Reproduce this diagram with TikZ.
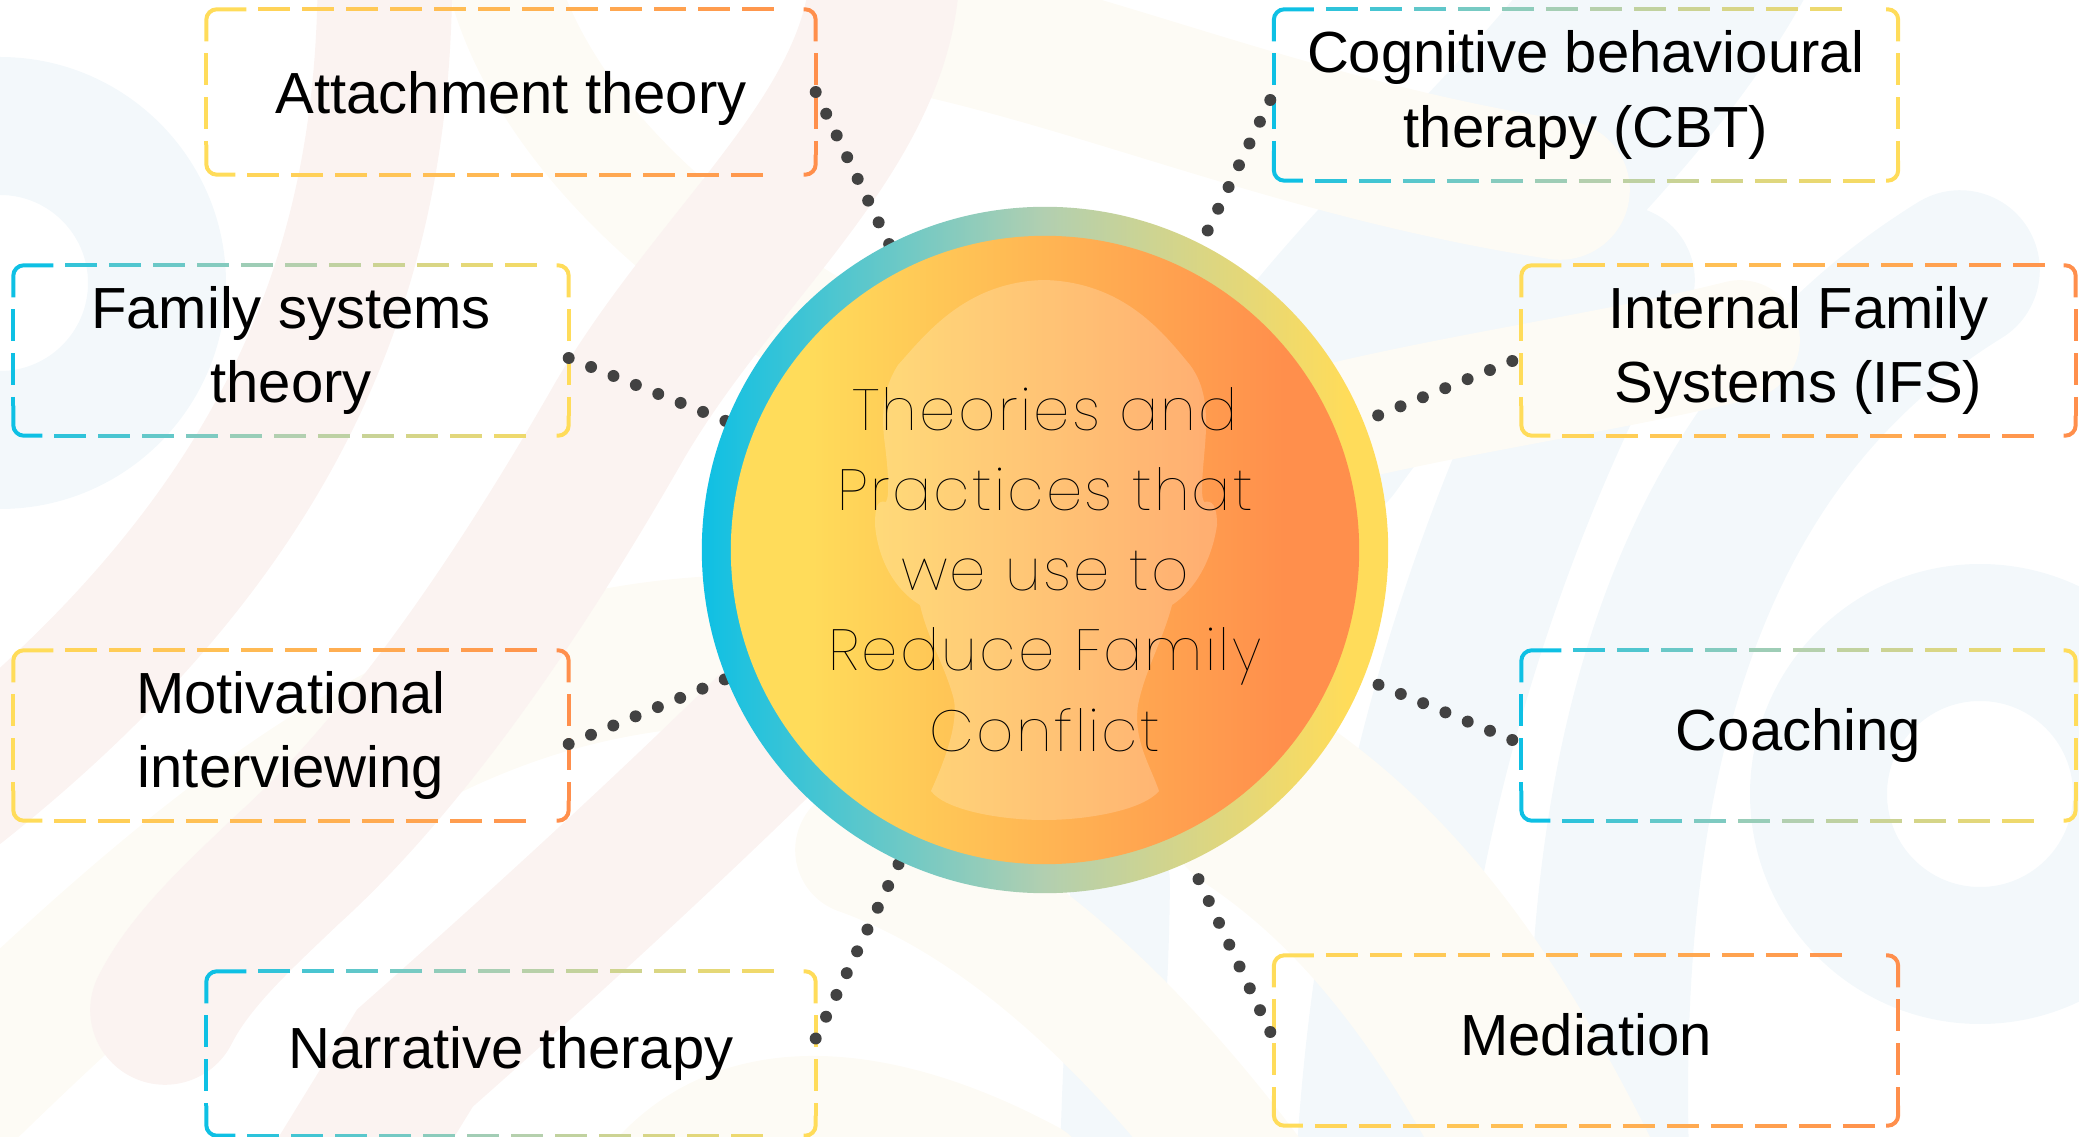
\documentclass[tikz,border=0pt]{standalone}
\usepackage{fontspec}
\setmainfont{Liberation Sans}
\newfontfamily\hubfont[LetterSpace=4]{Poppins Thin}
\usetikzlibrary{calc}
\definecolor{cyanend}{RGB}{14,192,228}
\definecolor{sagemid}{RGB}{178,207,176}
\definecolor{yellowend}{RGB}{255,220,90}
\definecolor{ambermid}{RGB}{255,181,83}
\definecolor{orangeend}{RGB}{255,143,76}
\definecolor{dotgrey}{RGB}{66,66,66}
\definecolor{bgblue}{RGB}{243,248,251}
\definecolor{bgpink}{RGB}{251,243,241}
\definecolor{bgyellow}{RGB}{253,251,245}
\pgfdeclarehorizontalshading{ringshade}{100bp}{color(0bp)=(cyanend); color(25bp)=(cyanend); color(50bp)=(sagemid); color(72bp)=(yellowend); color(100bp)=(yellowend)}
\pgfdeclarehorizontalshading{coreshade}{100bp}{color(0bp)=(yellowend); color(31bp)=(yellowend); color(50bp)=(ambermid); color(69bp)=(orangeend); color(100bp)=(orangeend)}
\tikzset{
  theorybox/.style 2 args={minimum width=#1*0.01cm,minimum height=#2*0.01cm,inner sep=0pt,align=center,
    font=\fontsize{16.5}{21.2}\selectfont},
  edgeline/.style={line width=1.13pt},
  dotline/.style={dotgrey,line width=3.4pt,line cap=round,dash pattern=on 0pt off 6.86pt},
  bgband/.style={line width=#1*0.2835pt,line cap=round}
}
% colour of one dash: position, width, left, middle, right
\newcommand{\edgecolour}[5]{%
  \pgfmathtruncatemacro\pc{(#1+16)/#2*100}%
  \ifnum\pc<50
    \pgfmathtruncatemacro\pd{2*\pc}\colorlet{dashcol}{#4!\pd!#3}%
  \else
    \pgfmathtruncatemacro\pd{min(2*\pc-100,100)}\colorlet{dashcol}{#5!\pd!#4}%
  \fi}
% dashed outline whose colour runs from left to right
\newcommand{\dashedges}[5]{%
  \pgfmathsetmacro\lastdash{#2-44}
  \foreach \a in {52,96,...,\lastdash}{
    \edgecolour{\a}{#2}{#3}{#4}{#5}
    \draw[edgeline,color=dashcol] ($(#1.north west)+(\a,0)$)--++({min(32,#2-12-\a)},0);
  }
  \foreach \a in {41,85,...,\lastdash}{
    \edgecolour{\a}{#2}{#3}{#4}{#5}
    \draw[edgeline,color=dashcol] ($(#1.south west)+(\a,0)$)--++(32,0);
  }
  \draw[edgeline,color=#3,rounded corners=3pt] ($(#1.north west)+(40,0)$)--(#1.north west)--++(0,32);
  \draw[edgeline,color=#3,rounded corners=3pt] ($(#1.south west)+(0,-30)$)--(#1.south west)--++(29,0);
  \draw[edgeline,color=#5,rounded corners=3pt] ($(#1.north east)+(-12,0)$)--(#1.north east)--++(0,32);
  \draw[edgeline,color=#5,rounded corners=3pt] ($(#1.south east)+(0,-20)$)--(#1.south east)--++(-12,0);
  \draw[edgeline,color=#3,dash pattern=on 9.07pt off 3.4pt] ($(#1.north west)+(0,44)$)--($(#1.south west)+(0,-30)$);
  \draw[edgeline,color=#5,dash pattern=on 9.07pt off 3.4pt] ($(#1.north east)+(0,44)$)--($(#1.south east)+(0,-20)$);
}
\begin{document}
\begin{tikzpicture}[x=0.01cm,y=-0.01cm]
\useasboundingbox (0,0) rectangle (2079,1137);
\begin{scope}
\clip (0,0) rectangle (2079,1137);
%background
\draw[bgblue,bgband=160] (1960,270) .. controls (1750,400) and (1590,650) .. (1610,1180);
\draw[bgblue,bgband=240] (1700,-60) .. controls (1600,120) and (1420,250) .. (1300,420);
\draw[bgblue,bgband=150] (1620,280) .. controls (1500,500) and (1390,800) .. (1370,1180);
\draw[bgblue,bgband=100] (1120,880) .. controls (1120,980) and (1110,1080) .. (1110,1180);
\fill[bgblue,even odd rule] (0,283) circle (226) (0,283) circle (88);
\fill[bgblue,even odd rule] (1980,794) circle (230) (1980,794) circle (93);
\draw[bgyellow,bgband=140] (900,20) .. controls (1100,60) and (1300,150) .. (1560,190);
\draw[bgyellow,bgband=120] (1350,420) .. controls (1480,390) and (1620,370) .. (1740,340);
\draw[bgyellow,bgband=110] (500,-30) .. controls (520,60) and (600,200) .. (820,330);
\draw[bgyellow,bgband=150] (800,650) .. controls (500,640) and (300,760) .. (-30,1080);
\draw[bgyellow,bgband=130] (860,850) .. controls (1000,900) and (1130,1020) .. (1250,1180);
\draw[bgyellow,bgband=200] (1260,800) .. controls (1380,880) and (1470,1000) .. (1560,1180);
\draw[bgyellow,bgband=120] (660,1180) .. controls (750,1080) and (900,1110) .. (1030,1180);
\draw[bgpink,bgband=135] (385,-30) .. controls (385,250) and (300,520) .. (-40,790);
\draw[bgpink,bgband=150] (885,-30) .. controls (880,130) and (720,250) .. (620,420) .. controls (540,560) and (420,750) .. (287,870) .. controls (240,915) and (190,960) .. (165,1010);
\draw[bgpink,bgband=150] (800,700) .. controls (700,800) and (560,930) .. (415,1058) -- (340,1180);
\end{scope}
%boxes
\node[theorybox={608}{164}] (attach) at (511,92) {\raisebox{-6.2pt}[0pt][0pt]{Attachment theory}};
\node[theorybox={554}{169}] (famsys) at (291,350.5) {Family systems\\theory};
\node[theorybox={554}{169}] (motiv) at (291,735.5) {Motivational\\interviewing};
\node[theorybox={608}{163}] (narr) at (511,1053.5) {Narrative therapy};
\node[theorybox={623}{170}] (cbt) at (1586,95) {Cognitive behavioural\\therapy (CBT)};
\node[theorybox={553}{169}] (ifs) at (1798.5,350.5) {Internal Family\\Systems (IFS)};
\node[theorybox={553}{169}] (coach) at (1798.5,735.5) {Coaching};
\node[theorybox={623}{169}] (medi) at (1586,1040.5) {\raisebox{-4.4pt}[0pt][0pt]{Mediation}};
\dashedges{attach}{608}{yellowend}{ambermid}{orangeend}
\dashedges{famsys}{554}{cyanend}{sagemid}{yellowend}
\dashedges{motiv}{554}{yellowend}{ambermid}{orangeend}
\dashedges{narr}{608}{cyanend}{sagemid}{yellowend}
\dashedges{cbt}{623}{cyanend}{sagemid}{yellowend}
\dashedges{ifs}{553}{yellowend}{ambermid}{orangeend}
\dashedges{coach}{553}{cyanend}{sagemid}{yellowend}
\dashedges{medi}{623}{yellowend}{ambermid}{orangeend}
%hub anchors for the dots
\node[circle,minimum size=6.86cm,inner sep=0pt,outer sep=0pt] (hub) at (1045,550) {};
\node[circle,minimum size=7.1cm,inner sep=0pt,outer sep=0pt] (halo) at (1045,550) {};
%dots
\draw[dotline] (attach.east)--(hub.117);
\draw[dotline] ([shift={(0,7.5)}]famsys.east)--(hub.158);
\draw[dotline] ([shift={(0,8.5)}]motiv.east)--(hub.202);
\draw[dotline] ([shift={(0,-15)}]narr.east)--(hub.245);
\draw[dotline] ([shift={(-3.5,5)}]cbt.west)--(halo.63);
\draw[dotline] ([shift={(-9,10.5)}]ifs.west)--(halo.22);
\draw[dotline] ([shift={(-9,4.5)}]coach.west)--(halo.-22);
\draw[dotline] ([shift={(-3.5,-8.5)}]medi.west)--(halo.-65);
%hub over the dots
\node[circle,minimum size=6.86cm,inner sep=0pt,outer sep=0pt,shade,shading=ringshade] (ring) at (hub) {};
\node[circle,minimum size=6.28cm,inner sep=0pt,shade,shading=coreshade] (core) at (hub) {};
\fill[white,opacity=0.2] (1044,280) .. controls (965,282) and (925,335) .. (898,365) .. controls (885,385) and (880,410) .. (885,445)
  .. controls (888,470) and (890,495) .. (886,502) .. controls (878,500) and (875,505) .. (875,525)
  .. controls (878,560) and (895,590) .. (920,605) .. controls (928,640) and (945,665) .. (954,700)
  .. controls (958,725) and (945,760) .. (931,791) .. controls (945,810) and (1000,820) .. (1044,820)
  .. controls (1088,820) and (1143,810) .. (1159,791) .. controls (1150,765) and (1133,740) .. (1138,705)
  .. controls (1145,670) and (1163,640) .. (1172,605) .. controls (1195,590) and (1212,560) .. (1217,525)
  .. controls (1217,505) and (1212,500) .. (1204,502) .. controls (1200,495) and (1203,470) .. (1205,445)
  .. controls (1208,410) and (1205,385) .. (1190,365) .. controls (1165,335) and (1125,282) .. (1044,280) -- cycle;
\node[align=center,inner sep=0pt,font=\hubfont\fontsize{16.5}{22.8}\selectfont] (hubtext) at (1045,569.5) {Theories and\\Practices that\\we use to\\Reduce Family\\Conflict};
\end{tikzpicture}
\end{document}
